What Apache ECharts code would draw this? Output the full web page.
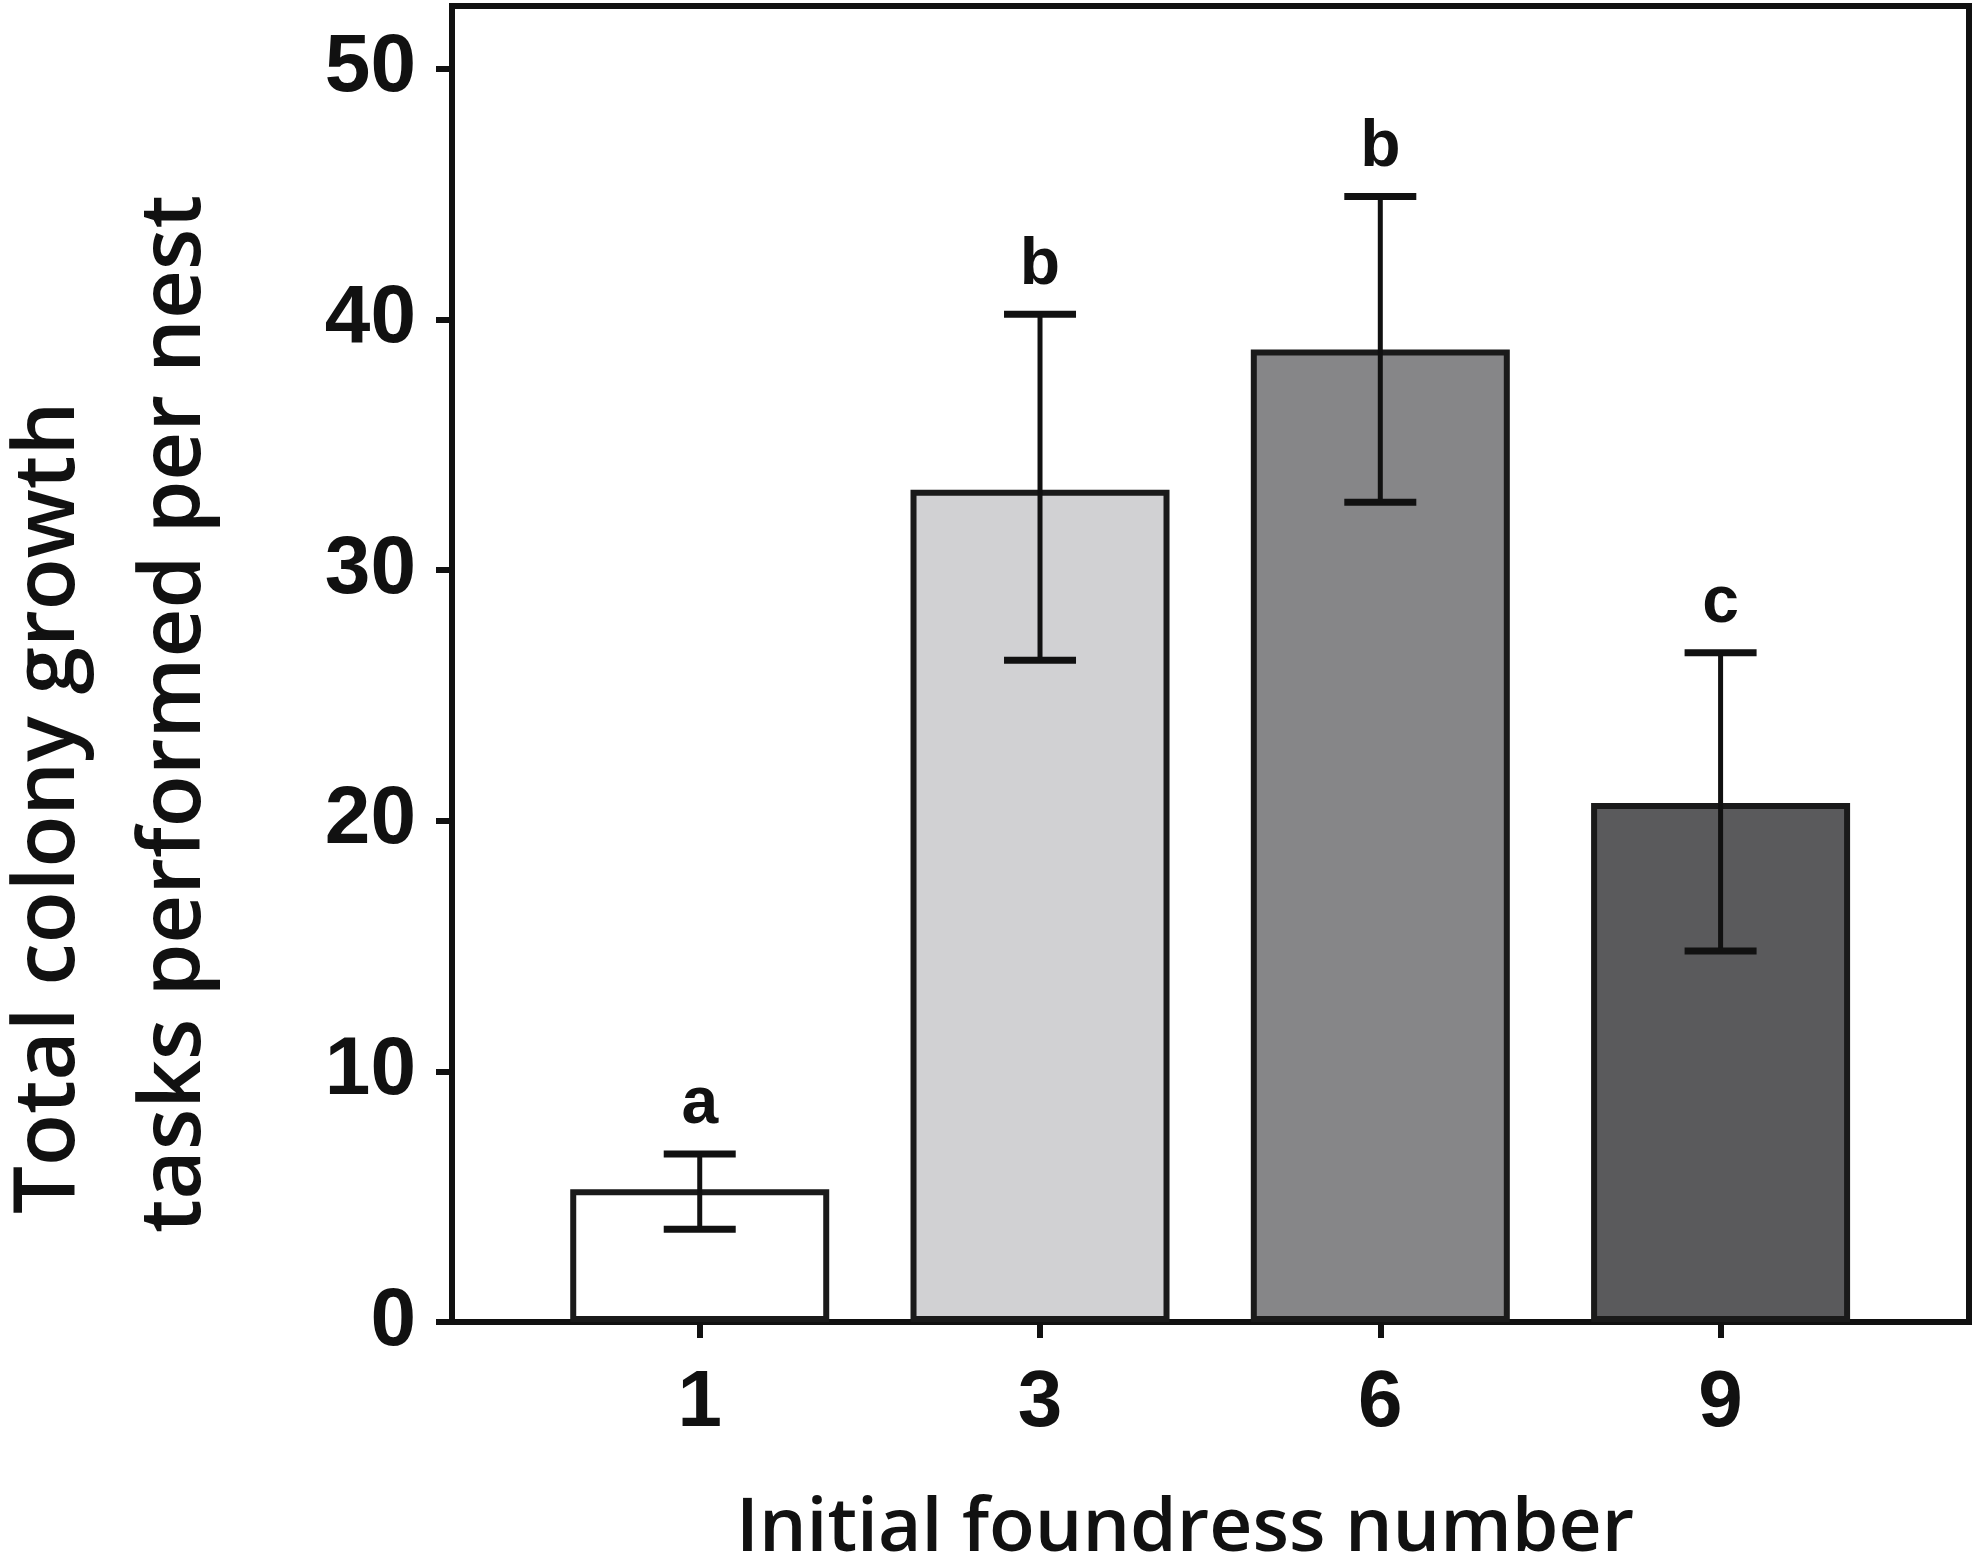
<!DOCTYPE html>
<html>
<head>
<meta charset="utf-8">
<script src="https://cdn.jsdelivr.net/npm/echarts@6/dist/echarts.min.js"></script>
<style>
  html, body { margin: 0; padding: 0; background: #ffffff; }
  #chart { width: 1983px; height: 1568px; }
</style>
</head>
<body>
<div id="chart"></div>
<script>
// ---- data ----
const categories = ['1', '3', '6', '9'];
const means      = [5.3, 33.2, 38.8, 20.7];
const errUpper   = [6.7, 40.2, 44.9, 26.7];
const errLower   = [3.7, 26.4, 32.7, 14.8];
const letters    = ['a', 'b', 'b', 'c'];
const barColors  = ['#ffffff', '#d1d1d3', '#868688', '#5a5a5c'];
const yTicks     = [0, 10, 20, 30, 40, 50];
const xTitle     = 'Initial foundress number';
const yTitle1    = 'Total colony growth';
const yTitle2    = 'tasks performed per nest';

const tickFont = "'Liberation Sans Narrow', 'Liberation Sans', Arial, sans-serif";
const titleFont = "'Open Sans', 'Noto Sans', sans-serif";

const positions = categories.map((c, i) => i);
const barData = means.map((v, i) => ({
  value: [positions[i], v],
  itemStyle: { color: barColors[i] }
}));
const errData = means.map((v, i) => [positions[i], errLower[i], errUpper[i]]);

const chart = echarts.init(document.getElementById('chart'), null, { renderer: 'canvas' });

const option = {
  backgroundColor: '#ffffff',
  animation: false,
  grid: {
    left: 452, right: 14, top: 6, bottom: 246,
    show: true, borderColor: '#111', borderWidth: 6, backgroundColor: 'transparent'
  },
  xAxis: {
    type: 'value',
    min: -0.728,
    max: 3.73,
    splitLine: { show: false },
    axisLine: { show: true, onZero: false, lineStyle: { color: '#111', width: 6 } },
    axisTick: { show: true, customValues: positions, length: 16, inside: false, lineStyle: { color: '#111', width: 6 } },
    axisLabel: {
      customValues: positions,
      formatter: v => categories[Math.round(v)],
      margin: 42,
      color: '#111',
      fontFamily: tickFont,
      fontWeight: 'bold',
      fontSize: 80
    }
  },
  yAxis: {
    type: 'value',
    min: 0,
    max: 52.5,
    splitLine: { show: false },
    axisLine: { show: true, onZero: false, lineStyle: { color: '#111', width: 6 } },
    axisTick: { show: true, customValues: yTicks, length: 16, lineStyle: { color: '#111', width: 6 } },
    axisLabel: {
      customValues: yTicks,
      margin: 36,
      color: '#111',
      fontFamily: tickFont,
      fontWeight: 'bold',
      fontSize: 82,
      padding: [12, 0, 0, 0]
    }
  },
  graphic: [
    {
      type: 'text',
      x: 1185, y: 1530,
      style: { text: xTitle, fill: '#111', font: "600 75px " + titleFont, align: 'center', verticalAlign: 'middle' }
    },
    {
      type: 'text',
      x: 50, y: 1214, rotation: Math.PI / 2,
      style: { text: yTitle1, fill: '#111', font: "600 85px " + titleFont, align: 'left', verticalAlign: 'middle' }
    },
    {
      type: 'text',
      x: 176, y: 1233, rotation: Math.PI / 2,
      style: { text: yTitle2, fill: '#111', font: "600 85px " + titleFont, align: 'left', verticalAlign: 'middle' }
    }
  ],
  series: [
    {
      type: 'bar',
      data: barData,
      barWidth: 259,
      itemStyle: { borderColor: '#1a1a1a', borderWidth: 6 },
      z: 2
    },
    {
      type: 'custom',
      data: errData,
      z: 3,
      renderItem: function (params, api) {
        const x = api.value(0);
        const lo = api.coord([x, api.value(1)]);
        const hi = api.coord([x, api.value(2)]);
        const half = 36;
        const st = { stroke: '#111', lineWidth: 5 };
        return {
          type: 'group',
          children: [
            { type: 'line', shape: { x1: lo[0], y1: lo[1], x2: hi[0], y2: hi[1] }, style: st },
            { type: 'line', shape: { x1: hi[0] - half, y1: hi[1], x2: hi[0] + half, y2: hi[1] }, style: { stroke: '#111', lineWidth: 7 } },
            { type: 'line', shape: { x1: lo[0] - half, y1: lo[1], x2: lo[0] + half, y2: lo[1] }, style: { stroke: '#111', lineWidth: 7 } },
            { type: 'text', x: hi[0], y: hi[1] - 16,
              style: { text: letters[params.dataIndex], fill: '#111', font: "bold 66px " + tickFont, align: 'center', verticalAlign: 'bottom' } }
          ]
        };
      }
    }
  ]
};
chart.setOption(option);
</script>
</body>
</html>
